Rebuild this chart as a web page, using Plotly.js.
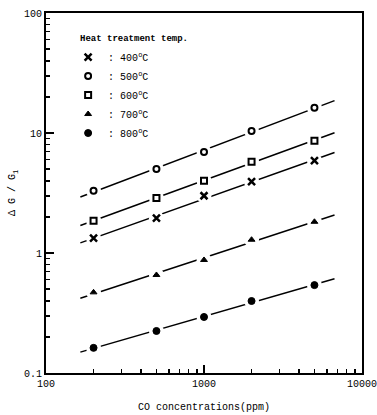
<!DOCTYPE html>
<html>
<head>
<meta charset="utf-8">
<script src="https://cdn.plot.ly/plotly-3.0.1.min.js"></script>
<style>html,body{margin:0;padding:0;background:#fff;}#chart{width:377px;height:415px;}</style>
</head>
<body>
<div id="chart"></div>
<script>
// CO concentration (ppm)
const conc = [200, 500, 1000, 2000, 5000];
// Delta G / G1 for each heat-treatment temperature
const g400 = [1.33, 1.95, 3.0, 3.93, 5.88];
const g500 = [3.3, 5.0, 6.95, 10.4, 16.2];
const g600 = [1.86, 2.87, 4.0, 5.77, 8.6];
const g700 = [0.47, 0.656, 0.875, 1.29, 1.82];
const g800 = [0.162, 0.224, 0.293, 0.398, 0.54];
const seriesNames = ['400<sup>o</sup>C', '500<sup>o</sup>C', '600<sup>o</sup>C', '700<sup>o</sup>C', '800<sup>o</sup>C'];
// extent of the fitted lines (ppm)
const fitRange = [165, 6700];
const xTicks = [100, 1000, 10000];
const yTicks = [0.1, 1, 10, 100];

const series = [g400, g500, g600, g700, g800];
const symbols = ['x-thin-open', 'circle-open', 'square-open', 'triangle-up', 'circle'];
const sizes = [7, 6, 6, 6, 7];
const lw = [2.5, 2, 2, 1, 1];

function fit(xs, ys) {
  const lx = xs.map(Math.log10), ly = ys.map(Math.log10);
  const n = lx.length;
  const mx = lx.reduce((a, b) => a + b) / n, my = ly.reduce((a, b) => a + b) / n;
  let sxy = 0, sxx = 0;
  for (let i = 0; i < n; i++) { sxy += (lx[i] - mx) * (ly[i] - my); sxx += (lx[i] - mx) ** 2; }
  const b = sxy / sxx, a = my - b * mx;
  return fitRange.map(x => Math.pow(10, a + b * Math.log10(x)));
}

const traces = [];
series.forEach((ys, i) => {
  traces.push({x: fitRange, y: fit(conc, ys), mode: 'lines', line: {color: '#000', width: 1.5}, showlegend: false, hoverinfo: 'skip'});
});
series.forEach((ys, i) => {
  traces.push({x: conc, y: ys, mode: 'markers', marker: {symbol: 'circle', size: 15, color: '#fff'}, showlegend: false, hoverinfo: 'skip'});
});
series.forEach((ys, i) => {
  traces.push({x: conc, y: ys, mode: 'markers', name: ': ' + seriesNames[i],
    marker: {symbol: symbols[i], size: sizes[i], color: '#000', line: {color: '#000', width: lw[i]}}});
});

const mono = 'Liberation Mono, DejaVu Sans Mono, monospace';
const minorVals = (lo, hi) => { const v = []; for (let d = lo; d < hi; d *= 10) for (let k = 2; k <= 9; k++) v.push(d * k); return v; };

const layout = {
  width: 377, height: 415,
  margin: {l: 46, r: 15, t: 13, b: 42},
  paper_bgcolor: '#fff', plot_bgcolor: '#fff',
  font: {family: mono, size: 10, color: '#000'},
  showlegend: true,
  legend: {x: 0.07, y: 0.918, xanchor: 'left', yanchor: 'top', bgcolor: 'rgba(0,0,0,0)',
    font: {family: mono, size: 10}, tracegroupgap: 0, itemwidth: 30},
  annotations: [{text: '<b>Heat treatment temp.</b>', xref: 'paper', yref: 'paper', x: 0.1, y: 0.928,
    xanchor: 'left', yanchor: 'middle', showarrow: false, font: {family: mono, size: 9}}],
  xaxis: {type: 'log', range: [2, 4], showgrid: false, zeroline: false,
    showline: true, linewidth: 2, linecolor: '#000', mirror: true,
    tickmode: 'array', tickvals: xTicks, ticktext: xTicks.map(String), ticklabeloverflow: 'allow',
    ticks: 'inside', ticklen: 8, tickwidth: 1.5, tickcolor: '#000',
    minor: {tickmode: 'array', tickvals: minorVals(100, 10000), ticks: 'inside', ticklen: 4, tickwidth: 1.5, tickcolor: '#000', showgrid: false},
    tickfont: {family: mono, size: 10},
    title: {text: 'CO concentrations(ppm)', font: {family: mono, size: 10}, standoff: 14}},
  yaxis: {type: 'log', range: [-1, 2], showgrid: false, zeroline: false,
    showline: true, linewidth: 2, linecolor: '#000', mirror: true,
    tickmode: 'array', tickvals: yTicks, ticktext: yTicks.map(String),
    ticks: 'inside', ticklen: 8, tickwidth: 1.5, tickcolor: '#000',
    minor: {tickmode: 'array', tickvals: minorVals(0.1, 100), ticks: 'inside', ticklen: 4, tickwidth: 1.5, tickcolor: '#000', showgrid: false},
    tickfont: {family: mono, size: 10},
    title: {text: 'Δ G / G<sub>1</sub>', font: {family: mono, size: 10}, standoff: 6}}
};

Plotly.newPlot('chart', traces, layout, {staticPlot: true});
</script>
</body>
</html>
